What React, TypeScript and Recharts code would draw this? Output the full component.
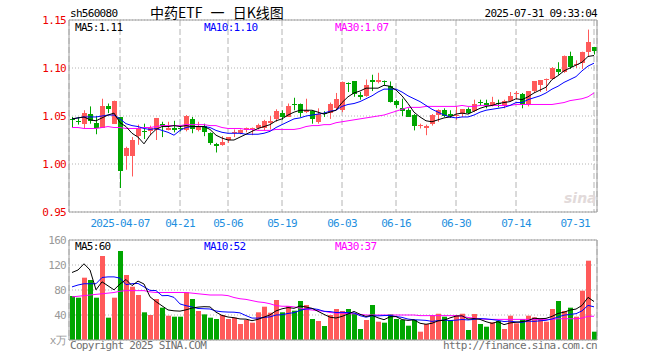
import {
  Bar,
  CartesianGrid,
  ComposedChart,
  Line,
  ReferenceLine,
  XAxis,
  YAxis,
} from "recharts";

// trading days, 2025-03-25 .. 2025-07-31
const DATES = [
  "2025-03-25", "2025-03-26", "2025-03-27", "2025-03-28", "2025-03-31",
  "2025-04-01", "2025-04-02", "2025-04-03", "2025-04-07", "2025-04-08",
  "2025-04-09", "2025-04-10", "2025-04-11", "2025-04-14", "2025-04-15",
  "2025-04-16", "2025-04-17", "2025-04-18", "2025-04-21", "2025-04-22",
  "2025-04-23", "2025-04-24", "2025-04-25", "2025-04-28", "2025-04-29",
  "2025-04-30", "2025-05-06", "2025-05-07", "2025-05-08", "2025-05-09",
  "2025-05-12", "2025-05-13", "2025-05-14", "2025-05-15", "2025-05-16",
  "2025-05-19", "2025-05-20", "2025-05-21", "2025-05-22", "2025-05-23",
  "2025-05-26", "2025-05-27", "2025-05-28", "2025-05-29", "2025-05-30",
  "2025-06-03", "2025-06-04", "2025-06-05", "2025-06-06", "2025-06-09",
  "2025-06-10", "2025-06-11", "2025-06-12", "2025-06-13", "2025-06-16",
  "2025-06-17", "2025-06-18", "2025-06-19", "2025-06-20", "2025-06-23",
  "2025-06-24", "2025-06-25", "2025-06-26", "2025-06-27", "2025-06-30",
  "2025-07-01", "2025-07-02", "2025-07-03", "2025-07-04", "2025-07-07",
  "2025-07-08", "2025-07-09", "2025-07-10", "2025-07-11", "2025-07-14",
  "2025-07-15", "2025-07-16", "2025-07-17", "2025-07-18", "2025-07-21",
  "2025-07-22", "2025-07-23", "2025-07-24", "2025-07-25", "2025-07-28",
  "2025-07-29", "2025-07-30", "2025-07-31",
];

const OPEN = [
  1.047, 1.045, 1.042, 1.052, 1.043, 1.038, 1.06, 1.042, 1.049, 1.008,
  1.008, 1.029, 1.034, 1.034, 1.035, 1.042, 1.035, 1.037, 1.037, 1.035,
  1.047, 1.035, 1.04, 1.032, 1.021, 1.02, 1.025, 1.032, 1.032, 1.035,
  1.036, 1.038, 1.037, 1.043, 1.047, 1.053, 1.049, 1.063, 1.062, 1.054,
  1.055, 1.044, 1.053, 1.053, 1.058, 1.056, 1.084, 1.086, 1.072, 1.071,
  1.087, 1.085, 1.086, 1.081, 1.066, 1.058, 1.056, 1.051, 1.04, 1.038,
  1.042, 1.051, 1.056, 1.052, 1.05, 1.052, 1.057, 1.055, 1.065, 1.064,
  1.061, 1.064, 1.06, 1.066, 1.073, 1.073, 1.063, 1.076, 1.082, 1.087,
  1.089, 1.099, 1.096, 1.112, 1.103, 1.105, 1.117, 1.122,
];
const HIGH = [
  1.049, 1.049, 1.056, 1.06, 1.05, 1.068, 1.063, 1.066, 1.049, 1.018,
  1.028, 1.041, 1.042, 1.04, 1.048, 1.044, 1.044, 1.045, 1.04, 1.051,
  1.049, 1.044, 1.042, 1.033, 1.022, 1.029, 1.028, 1.036, 1.036, 1.038,
  1.038, 1.042, 1.046, 1.05, 1.057, 1.056, 1.063, 1.069, 1.063, 1.068,
  1.056, 1.058, 1.055, 1.064, 1.074, 1.086, 1.085, 1.086, 1.075, 1.088,
  1.093, 1.095, 1.087, 1.086, 1.067, 1.068, 1.058, 1.052, 1.042, 1.041,
  1.052, 1.057, 1.058, 1.056, 1.06, 1.057, 1.059, 1.067, 1.067, 1.067,
  1.07, 1.067, 1.067, 1.075, 1.076, 1.074, 1.076, 1.086, 1.087, 1.089,
  1.101, 1.106, 1.113, 1.117, 1.108, 1.117, 1.14, 1.122,
];
const LOW = [
  1.038, 1.041, 1.037, 1.042, 1.031, 1.038, 1.053, 1.042, 0.975, 0.994,
  0.987, 1.02, 1.026, 1.03, 1.025, 1.028, 1.035, 1.033, 1.034, 1.034,
  1.032, 1.034, 1.029, 1.02, 1.012, 1.019, 1.022, 1.028, 1.031, 1.033,
  1.03, 1.036, 1.035, 1.036, 1.044, 1.046, 1.049, 1.056, 1.049, 1.053,
  1.042, 1.042, 1.049, 1.047, 1.056, 1.054, 1.075, 1.07, 1.067, 1.07,
  1.076, 1.084, 1.082, 1.064, 1.058, 1.05, 1.049, 1.035, 1.037, 1.03,
  1.04, 1.044, 1.049, 1.048, 1.046, 1.049, 1.052, 1.054, 1.061, 1.058,
  1.06, 1.059, 1.058, 1.065, 1.067, 1.058, 1.06, 1.074, 1.075, 1.076,
  1.088, 1.093, 1.095, 1.099, 1.1, 1.099, 1.112, 1.114,
];
const CLOSE = [
  1.046, 1.044, 1.053, 1.045, 1.038, 1.06, 1.057, 1.066, 0.993, 1.017,
  1.025, 1.037, 1.033, 1.037, 1.048, 1.04, 1.038, 1.035, 1.036, 1.05,
  1.036, 1.039, 1.033, 1.022, 1.019, 1.023, 1.028, 1.033, 1.035, 1.037,
  1.037, 1.041, 1.045, 1.045, 1.055, 1.049, 1.06, 1.062, 1.053, 1.056,
  1.047, 1.052, 1.052, 1.063, 1.068, 1.085, 1.083, 1.073, 1.07, 1.082,
  1.085, 1.087, 1.085, 1.065, 1.061, 1.055, 1.049, 1.04, 1.041, 1.04,
  1.051, 1.056, 1.05, 1.05, 1.051, 1.057, 1.053, 1.063, 1.064, 1.061,
  1.065, 1.063, 1.066, 1.071, 1.074, 1.063, 1.076, 1.086, 1.087, 1.089,
  1.1, 1.096, 1.112, 1.101, 1.104, 1.117, 1.127, 1.118,
];

const MA5 = [
  1.047, 1.048, 1.049, 1.046, 1.045, 1.048, 1.051, 1.053, 1.043, 1.039,
  1.032, 1.028, 1.021, 1.03, 1.036, 1.039, 1.039, 1.04, 1.039, 1.04,
  1.039, 1.039, 1.039, 1.036, 1.03, 1.027, 1.025, 1.025, 1.028, 1.031,
  1.034, 1.037, 1.039, 1.041, 1.045, 1.047, 1.051, 1.054, 1.056, 1.056,
  1.056, 1.054, 1.052, 1.054, 1.056, 1.064, 1.07, 1.074, 1.076, 1.079,
  1.079, 1.079, 1.082, 1.081, 1.077, 1.071, 1.063, 1.054, 1.049, 1.045,
  1.044, 1.046, 1.048, 1.049, 1.052, 1.053, 1.052, 1.055, 1.058, 1.06,
  1.061, 1.063, 1.064, 1.065, 1.068, 1.067, 1.07, 1.074, 1.077, 1.08,
  1.088, 1.092, 1.097, 1.1, 1.103, 1.106, 1.112, 1.113,
];
const MA10 = [
  1.047, 1.048, 1.049, 1.049, 1.049, 1.05, 1.051, 1.051, 1.047, 1.042,
  1.04, 1.039, 1.037, 1.036, 1.037, 1.035, 1.033, 1.03, 1.035, 1.038,
  1.039, 1.039, 1.039, 1.038, 1.035, 1.033, 1.032, 1.032, 1.032, 1.031,
  1.031, 1.031, 1.032, 1.034, 1.038, 1.041, 1.044, 1.047, 1.048, 1.05,
  1.051, 1.052, 1.053, 1.055, 1.056, 1.06, 1.062, 1.063, 1.065, 1.068,
  1.071, 1.075, 1.078, 1.078, 1.078, 1.075, 1.071, 1.068, 1.065, 1.061,
  1.057, 1.054, 1.051, 1.049, 1.048, 1.049, 1.049, 1.051, 1.054, 1.056,
  1.057, 1.058, 1.059, 1.061, 1.064, 1.064, 1.067, 1.069, 1.071, 1.074,
  1.078, 1.081, 1.085, 1.088, 1.091, 1.097, 1.102, 1.105,
];
const MA30 = [
  1.038, 1.038, 1.037, 1.037, 1.037, 1.038, 1.039, 1.038, 1.038, 1.037,
  1.037, 1.037, 1.038, 1.038, 1.039, 1.04, 1.04, 1.04, 1.04, 1.041,
  1.041, 1.041, 1.041, 1.04, 1.04, 1.038, 1.037, 1.037, 1.037, 1.036,
  1.036, 1.035, 1.035, 1.035, 1.036, 1.036, 1.036, 1.036, 1.037, 1.039,
  1.04, 1.04, 1.041, 1.041, 1.043, 1.044, 1.045, 1.046, 1.047, 1.048,
  1.049, 1.05, 1.051, 1.053, 1.055, 1.057, 1.059, 1.059, 1.059, 1.06,
  1.06, 1.06, 1.06, 1.06, 1.06, 1.061, 1.06, 1.06, 1.061, 1.061,
  1.061, 1.061, 1.061, 1.061, 1.062, 1.062, 1.062, 1.062, 1.062, 1.062,
  1.062, 1.063, 1.064, 1.066, 1.067, 1.068, 1.07, 1.074,
];

// volume, 万手
const VOLUME = [
  70.4, 67.7, 99.7, 96, 67.7, 134.4, 35.7, 67.7, 142.4, 104,
  85.3, 72, 44.3, 40, 65.6, 51.7, 38.9, 37.3, 37.3, 76.3,
  65.6, 46.4, 41, 35.7, 33.6, 40, 33.6, 35.7, 25.6, 32,
  27.7, 44.3, 53.3, 43.7, 64, 44.3, 54.4, 46.9, 62.4, 56,
  33.6, 30.4, 22.4, 40, 49.6, 46.4, 49.6, 42.7, 17.6, 32,
  56, 29.3, 27.7, 41, 33.6, 32, 22.9, 32, 13.3, 25.6,
  40, 42, 37.3, 32, 40, 42, 16, 41.6, 25.6, 21.3,
  28.3, 30.4, 17.6, 38.9, 26.7, 33.6, 38.9, 36.3, 34.7, 29.3,
  49.6, 62.4, 46.4, 51.7, 37.3, 78.9, 126.9, 13.3,
];
const VMA5 = [
  108, 112, 122, 112, 80.3, 93.1, 86.7, 80.3, 89.6, 96.8,
  87, 94.3, 89.6, 69.1, 61.4, 54.7, 48.1, 46.7, 46.2, 48.3,
  51.1, 52.6, 53.3, 53, 44.5, 39.3, 36.8, 35.7, 33.7, 33.4,
  30.9, 33.1, 36.6, 40.2, 46.6, 49.9, 51.9, 50.7, 54.4, 52.8,
  50.7, 45.9, 41, 36.5, 35.2, 37.8, 41.6, 45.7, 41.2, 37.7,
  39.6, 35.5, 32.5, 37.2, 37.5, 32.7, 31.4, 32.3, 26.8, 25.2,
  26.8, 30.6, 31.6, 35.4, 38.3, 38.7, 33.5, 34.3, 33, 29.3,
  26.6, 29.4, 24.6, 27.3, 28.4, 29.4, 31.1, 34.9, 34, 34.6,
  37.8, 42.5, 44.5, 47.9, 49.5, 55.3, 68.2, 61.6,
];
const VMA10 = [
  85, 88, 90, 90, 90, 100, 101, 101, 99, 88.6,
  90.1, 90.5, 85, 79.4, 79.1, 70.9, 71.2, 68.2, 57.7, 54.9,
  52.9, 50.4, 50, 49.6, 46.4, 45.2, 44.7, 44.5, 43.4, 39,
  35.1, 35, 36.2, 37, 40, 40.4, 42.5, 43.7, 47.3, 49.7,
  50.3, 48.9, 45.9, 45.5, 44, 44.3, 43.8, 43.4, 38.9, 36.5,
  38.7, 38.6, 39.1, 39.2, 37.6, 36.2, 33.5, 32.4, 32, 31.4,
  29.8, 31, 32, 31.1, 31.8, 32.8, 32.1, 33, 34.2, 33.8,
  32.7, 31.5, 29.5, 30.2, 28.9, 28, 30.3, 29.8, 30.7, 31.5,
  33.6, 36.8, 39.7, 41, 42.1, 46.6, 55.4, 53.1,
];
const VMA30 = [
  69, 70, 71, 72, 73, 74, 75, 76, 78, 79,
  79, 79, 79, 77, 76, 76, 76, 76, 76, 76,
  75, 74, 73, 72, 72, 72, 71, 68, 66, 65,
  63, 61, 60, 58, 55, 54, 54, 53, 51, 49,
  48, 47, 46, 44, 43, 43, 42, 42, 41, 40,
  40, 40, 40, 40, 40, 40, 40, 40, 39, 39,
  39, 39, 39, 39, 39, 38, 36, 35, 34, 33,
  33, 33, 33, 33, 33, 33, 33, 33, 33, 33,
  33, 34, 34, 34, 34, 35, 38, 38,
];

const TICK_DATES = [
  "2025-04-07", "2025-04-21", "2025-05-06", "2025-05-19", "2025-06-03",
  "2025-06-16", "2025-06-30", "2025-07-14", "2025-07-31",
];
const PRICE_TICKS = [0.95, 1.0, 1.05, 1.1, 1.15];
const VOL_TICKS = [0, 40, 80, 120, 160];

const RED = "#ff5a5a";
const GREEN = "#00a600";
const BORDER = "#a0a0a0";
const GRID = "#b4b4b4";
const DATE_BLUE = "#1e8fe0";
const MONO = "'DejaVu Sans Mono', monospace";

const priceData = DATES.map((date, i) => ({
  date,
  open: OPEN[i],
  high: HIGH[i],
  low: LOW[i],
  close: CLOSE[i],
  ma5: MA5[i],
  ma10: MA10[i],
  ma30: MA30[i],
}));

const volData = DATES.map((date, i) => ({
  date,
  vol: VOLUME[i],
  up: CLOSE[i] >= OPEN[i],
  ma5: VMA5[i],
  ma10: VMA10[i],
  ma30: VMA30[i],
}));

// candle drawn inside the [low, high] range bar
const Candle = (props: any) => {
  const { x, y, height, payload } = props;
  if (!payload) return null;
  const { open, close, high, low } = payload;
  const color = close >= open ? RED : GREEN;
  const k = high > low ? height / (high - low) : 0;
  const py = (v: number) => y + (high - v) * k;
  const top = Math.round(py(Math.max(open, close)));
  const bot = Math.round(py(Math.min(open, close)));
  const left = Math.round(x) + 1;
  return (
    <g>
      <line
        x1={left + 2.5}
        x2={left + 2.5}
        y1={y}
        y2={y + height}
        stroke={color}
        strokeWidth={1}
      />
      <rect
        x={left}
        y={top}
        width={5}
        height={Math.max(bot - top, 1)}
        fill={color}
      />
    </g>
  );
};

const VolBar = (props: any) => {
  const { x, y, height, payload } = props;
  if (!payload || !height) return null;
  return (
    <rect
      x={Math.round(x) + 1}
      y={y}
      width={5}
      height={height}
      fill={payload.up ? RED : GREEN}
    />
  );
};

const DateTick = (props: any) => {
  const { x, y, payload } = props;
  const v: string = payload.value;
  const first = v === TICK_DATES[0];
  const last = v === TICK_DATES[TICK_DATES.length - 1];
  return (
    <text
      x={last ? x - 4 : x}
      y={y}
      dy={13}
      textAnchor={last ? "end" : "middle"}
      fill={DATE_BLUE}
      fontSize={11}
      fontFamily={MONO}
      letterSpacing={-0.7}
    >
      {first ? v : v.slice(5)}
    </text>
  );
};

const monoText = {
  fontFamily: MONO,
  fontSize: 11,
  letterSpacing: -0.7,
};

export default function App() {
  return (
    <div
      style={{
        position: "absolute",
        left: 0,
        top: 0,
        width: 660,
        height: 360,
        background: "#fff",
      }}
    >
      {/* price panel */}
      <div style={{ position: "absolute", left: 0, top: 0 }}>
        <ComposedChart
          width={660}
          height={232}
          data={priceData}
          margin={{ top: 20, right: 62, left: 0, bottom: 0 }}
          barCategoryGap={0}
          barGap={0}
        >
          <CartesianGrid
            vertical={false}
            stroke={GRID}
            strokeDasharray="1 2"
          />
          <CartesianGrid
            horizontal={false}
            stroke={GRID}
            strokeDasharray="6 3"
          />
          <XAxis
            dataKey="date"
            height={20}
            ticks={TICK_DATES}
            interval={0}
            tick={<DateTick />}
            tickLine={false}
            tickSize={0}
            axisLine={{ stroke: BORDER }}
          />
          <YAxis
            width={69}
            domain={[0.95, 1.15]}
            ticks={PRICE_TICKS}
            allowDataOverflow
            tickFormatter={(v) => v.toFixed(2)}
            tick={{ fill: "#ee0000", ...monoText }}
            tickLine={false}
            tickSize={3}
            tickMargin={0}
            axisLine={{ stroke: BORDER }}
          />
          <YAxis
            yAxisId="right"
            orientation="right"
            width={1}
            domain={[0, 1]}
            tick={false}
            tickLine={false}
            axisLine={{ stroke: BORDER }}
          />
          <ReferenceLine y={1.15} stroke={BORDER} />
          <Bar
            dataKey={(d: any) => [d.low, d.high]}
            barSize={6}
            shape={Candle}
            isAnimationActive={false}
          />
          <Line
            type="linear"
            dataKey="ma30"
            stroke="#ff00ff"
            strokeWidth={1}
            dot={false}
            activeDot={false}
            isAnimationActive={false}
          />
          <Line
            type="linear"
            dataKey="ma10"
            stroke="#0000ff"
            strokeWidth={1}
            dot={false}
            activeDot={false}
            isAnimationActive={false}
          />
          <Line
            type="linear"
            dataKey="ma5"
            stroke="#000000"
            strokeWidth={1}
            dot={false}
            activeDot={false}
            isAnimationActive={false}
          />
        </ComposedChart>
      </div>

      {/* volume panel */}
      <div style={{ position: "absolute", left: 0, top: 232 }}>
        <ComposedChart
          width={660}
          height={128}
          data={volData}
          margin={{ top: 8, right: 62, left: 0, bottom: 0 }}
          barCategoryGap={0}
          barGap={0}
        >
          <CartesianGrid
            vertical={false}
            stroke={GRID}
            strokeDasharray="1 2"
          />
          <CartesianGrid
            horizontal={false}
            stroke={GRID}
            strokeDasharray="6 3"
          />
          <XAxis
            dataKey="date"
            height={20}
            ticks={TICK_DATES}
            interval={0}
            tick={false}
            tickLine={false}
            axisLine={{ stroke: BORDER }}
          />
          <YAxis
            width={69}
            domain={[0, 160]}
            ticks={VOL_TICKS}
            allowDataOverflow
            tickFormatter={(v) => (v === 0 ? "x万" : String(v))}
            tick={{ fill: "#999999", ...monoText }}
            tickLine={false}
            tickSize={3}
            tickMargin={0}
            axisLine={{ stroke: BORDER }}
          />
          <YAxis
            yAxisId="right"
            orientation="right"
            width={1}
            domain={[0, 1]}
            tick={false}
            tickLine={false}
            axisLine={{ stroke: BORDER }}
          />
          <ReferenceLine y={160} stroke={BORDER} />
          <Bar
            dataKey="vol"
            barSize={6}
            shape={VolBar}
            isAnimationActive={false}
          />
          <Line
            type="linear"
            dataKey="ma30"
            stroke="#ff00ff"
            strokeWidth={1}
            dot={false}
            activeDot={false}
            isAnimationActive={false}
          />
          <Line
            type="linear"
            dataKey="ma10"
            stroke="#0000ff"
            strokeWidth={1}
            dot={false}
            activeDot={false}
            isAnimationActive={false}
          />
          <Line
            type="linear"
            dataKey="ma5"
            stroke="#000000"
            strokeWidth={1}
            dot={false}
            activeDot={false}
            isAnimationActive={false}
          />
        </ComposedChart>
      </div>

      {/* header, legends and footer */}
      <svg
        width={660}
        height={360}
        style={{ position: "absolute", left: 0, top: 0, pointerEvents: "none" }}
      >
        <text x={70} y={17} fill="#000" {...monoText}>
          sh560080
        </text>
        <text
          x={150}
          y={18}
          fill="#000"
          fontSize={14}
          wordSpacing={5}
          fontFamily="'Noto Sans CJK SC', sans-serif"
        >
          中药ETF 一 日K线图
        </text>
        <text x={597} y={17} textAnchor="end" fill="#000" {...monoText}>
          2025-07-31 09:33:04
        </text>

        <text x={75} y={31} fill="#000" {...monoText}>
          MA5:1.11
        </text>
        <text x={204} y={31} fill="#0000ff" {...monoText}>
          MA10:1.10
        </text>
        <text x={335} y={31} fill="#ff00ff" {...monoText}>
          MA30:1.07
        </text>

        <text x={75} y={250} fill="#000" {...monoText}>
          MA5:60
        </text>
        <text x={204} y={250} fill="#0000ff" {...monoText}>
          MA10:52
        </text>
        <text x={335} y={250} fill="#ff00ff" {...monoText}>
          MA30:37
        </text>

        <text
          x={564}
          y={203}
          fill="#e2dada"
          fontSize={14}
          fontStyle="italic"
          fontWeight="bold"
          fontFamily="'DejaVu Sans', sans-serif"
        >
          sina
        </text>

        <text x={70} y={349} fill="#707070" {...monoText}>
          Copyright 2025 SINA.COM
        </text>
        <text x={597} y={349} textAnchor="end" fill="#707070" {...monoText}>
          http://finance.sina.com.cn
        </text>
      </svg>
    </div>
  );
}
